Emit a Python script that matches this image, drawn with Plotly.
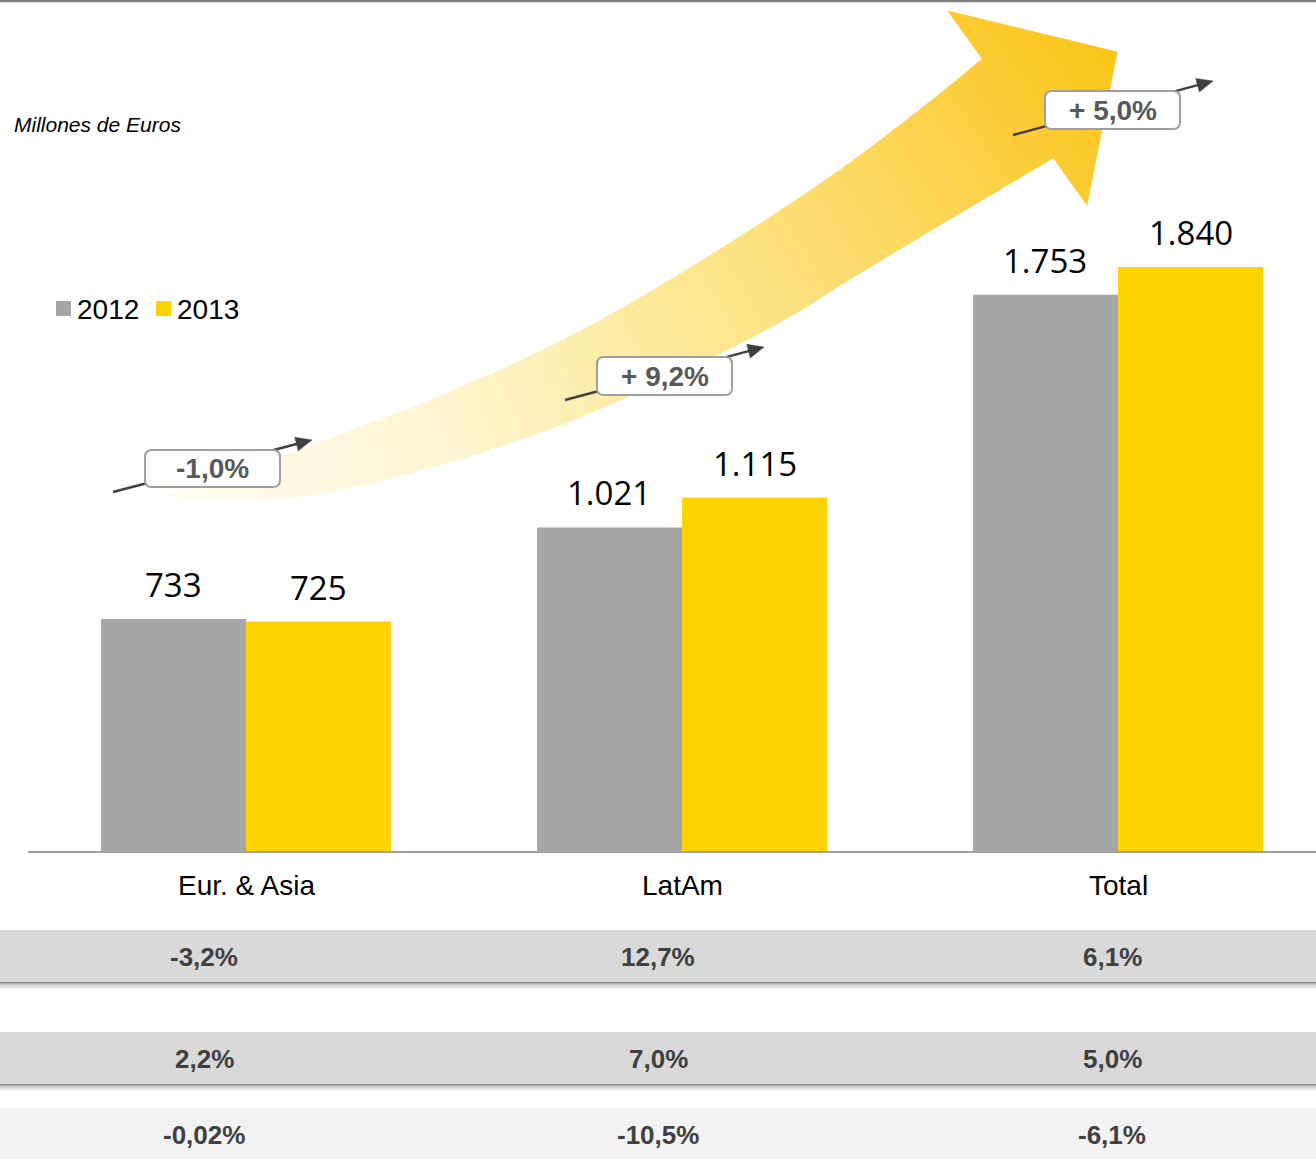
import plotly.graph_objects as go
import math

# ---------------- data ----------------
categories = ["Eur. & Asia", "LatAm", "Total"]
series_names = ["2012", "2013"]
values_2012 = [733, 1021, 1753]
values_2013 = [725, 1115, 1840]
growth_labels = ["-1,0%", "+ 9,2%", "+ 5,0%"]
table_row1 = ["-3,2%", "12,7%", "6,1%"]
table_row2 = ["2,2%", "7,0%", "5,0%"]
table_row3 = ["-0,02%", "-10,5%", "-6,1%"]
unit_label = "Millones de Euros"

# ---------------- styling / layout ----------------
W, H = 1316, 1159
GREY = "#A6A6A6"
YELLOW = "#FFD200"
FONT = "Arial, Liberation Sans, sans-serif"
NUMFONT = "Open Sans, Lato, sans-serif"


def px(x):
    return x / W


def py(y):
    return 1 - y / H


def path(points, close=True):
    s = "M " + " L ".join(f"{px(x):.5f},{py(y):.5f}" for x, y in points)
    return s + (" Z" if close else "")


x_pos = list(range(len(categories)))
fig = go.Figure()
fig.add_trace(go.Bar(x=x_pos, y=values_2012, name=series_names[0],
                     marker=dict(color=GREY, line=dict(width=0)), showlegend=False))
fig.add_trace(go.Bar(x=x_pos, y=values_2013, name=series_names[1],
                     marker=dict(color=YELLOW, line=dict(width=0)), showlegend=False))

shapes = []
annotations = []

# top border line
shapes.append(dict(type="line", xref="paper", yref="paper", x0=0, x1=1,
                   y0=py(1), y1=py(1), line=dict(color="#7F7F7F", width=2.5)))

# ---------------- big gradient arrow (decoration) ----------------
upper_ctrl = [(166, 493), (240, 471), (307, 447), (440, 396), (567, 338), (693, 266),
              (827, 179), (927, 104), (982, 59)]
lower_ctrl = [(166, 497), (230, 500), (323, 493), (463, 458), (597, 410), (760, 333), (860, 273),
              (960, 213), (1053, 158)]
B1, B2, TIP = (948, 11), (1087, 205), (1117, 52)


def catmull(pts, per=8):
    out = []
    P = [pts[0]] + pts + [pts[-1]]
    for i in range(1, len(P) - 2):
        p0, p1, p2, p3 = P[i - 1], P[i], P[i + 1], P[i + 2]
        for s in range(per):
            t = s / per
            t2, t3 = t * t, t * t * t
            out.append(tuple(0.5 * ((2 * p1[j]) + (-p0[j] + p2[j]) * t +
                                    (2 * p0[j] - 5 * p1[j] + 4 * p2[j] - p3[j]) * t2 +
                                    (-p0[j] + 3 * p1[j] - 3 * p2[j] + p3[j]) * t3) for j in range(2)))
    out.append(pts[-1])
    return out


upper = catmull(upper_ctrl)
lower = catmull(lower_ctrl)

stops = [(160, (255, 253, 245)), (450, (255, 245, 208)), (600, (254, 237, 170)),
         (750, (253, 227, 133)), (900, (252, 214, 90)), (1000, (252, 205, 58)),
         (1120, (251, 196, 21))]


def color_at(x):
    if x <= stops[0][0]:
        c = stops[0][1]
    elif x >= stops[-1][0]:
        c = stops[-1][1]
    else:
        for (xa, ca), (xb, cb) in zip(stops[:-1], stops[1:]):
            if xa <= x <= xb:
                f = (x - xa) / (xb - xa)
                c = tuple(ca[i] + f * (cb[i] - ca[i]) for i in range(3))
                break
    return "rgb(%d,%d,%d)" % tuple(round(v) for v in c)


def resample(poly, n):
    d = [0.0]
    for a, b in zip(poly[:-1], poly[1:]):
        d.append(d[-1] + math.hypot(b[0] - a[0], b[1] - a[1]))
    total = d[-1]
    out = []
    for k in range(n + 1):
        t = total * k / n
        for i in range(len(poly) - 1):
            if d[i] <= t <= d[i + 1] + 1e-9:
                f = (t - d[i]) / (d[i + 1] - d[i]) if d[i + 1] > d[i] else 0
                out.append((poly[i][0] + f * (poly[i + 1][0] - poly[i][0]),
                            poly[i][1] + f * (poly[i + 1][1] - poly[i][1])))
                break
    return out


N = 40
SUB = 4
U = resample(upper, N * SUB)
L = resample(lower, N * SUB)
for k in range(N):
    seg_u = U[k * SUB:(k + 1) * SUB + 1]
    seg_l = L[k * SUB:(k + 1) * SUB + 1]
    poly = seg_u + seg_l[::-1]
    cx = (seg_u[0][0] + seg_u[-1][0] + seg_l[0][0] + seg_l[-1][0]) / 4
    col = color_at(cx)
    shapes.append(dict(type="path", xref="paper", yref="paper", path=path(poly),
                       fillcolor=col, line=dict(color=col, width=0.8), layer="below"))
M = 6
for k in range(M):
    s0, s1 = k / M, (k + 1) / M
    p1a = (B1[0] + s0 * (TIP[0] - B1[0]), B1[1] + s0 * (TIP[1] - B1[1]))
    p2a = (B2[0] + s0 * (TIP[0] - B2[0]), B2[1] + s0 * (TIP[1] - B2[1]))
    p1b = (B1[0] + s1 * (TIP[0] - B1[0]), B1[1] + s1 * (TIP[1] - B1[1]))
    p2b = (B2[0] + s1 * (TIP[0] - B2[0]), B2[1] + s1 * (TIP[1] - B2[1]))
    quad = [p1a, p1b, p2b, p2a]
    cx = sum(p[0] for p in quad) / 4
    col = color_at(cx)
    shapes.append(dict(type="path", xref="paper", yref="paper", path=path(quad),
                       fillcolor=col, line=dict(color=col, width=0.8), layer="below"))

# ---------------- growth call-outs ----------------
callouts = [
    dict(tail=(113, 492), tip=(312, 440), box=(145, 450, 280, 487)),
    dict(tail=(565, 400), tip=(764, 347), box=(597, 357, 732, 395)),
    dict(tail=(1013, 135), tip=(1213, 81), box=(1045, 91, 1180, 129)),
]
DARK = "#404040"
for c, label in zip(callouts, growth_labels):
    (tx, ty), (hx, hy) = c["tail"], c["tip"]
    dx, dy = hx - tx, hy - ty
    ln = math.hypot(dx, dy)
    ux, uy = dx / ln, dy / ln
    nx, ny = -uy, ux
    hl, hw = 16, 7
    bx, by = hx - hl * ux, hy - hl * uy
    shapes.append(dict(type="line", xref="paper", yref="paper",
                       x0=px(tx), y0=py(ty), x1=px(bx + 2 * ux), y1=py(by + 2 * uy),
                       line=dict(color=DARK, width=2.5)))
    shapes.append(dict(type="path", xref="paper", yref="paper",
                       path=path([(hx, hy), (bx + hw * nx, by + hw * ny), (bx - hw * nx, by - hw * ny)]),
                       fillcolor=DARK, line=dict(color=DARK, width=0.5)))
    x0, y0, x1, y1 = c["box"]
    r = 7
    rr = ("M {a},{b} L {c},{b} Q {d},{b} {d},{e} L {d},{f} Q {d},{g} {c},{g} "
          "L {a},{g} Q {h},{g} {h},{f} L {h},{e} Q {h},{b} {a},{b} Z").format(
        a=f"{px(x0 + r):.5f}", b=f"{py(y0):.5f}", c=f"{px(x1 - r):.5f}", d=f"{px(x1):.5f}",
        e=f"{py(y0 + r):.5f}", f=f"{py(y1 - r):.5f}", g=f"{py(y1):.5f}", h=f"{px(x0):.5f}")
    shapes.append(dict(type="path", xref="paper", yref="paper", path=rr,
                       fillcolor="white", line=dict(color="#A0A0A0", width=2)))
    annotations.append(dict(xref="paper", yref="paper", x=px((x0 + x1) / 2), y=py((y0 + y1) / 2),
                            text=f"<b>{label}</b>", showarrow=False, xanchor="center", yanchor="middle",
                            font=dict(family=FONT, size=28, color="#595959")))

# ---------------- axis line ----------------
shapes.append(dict(type="line", xref="paper", yref="paper", x0=px(28), x1=1,
                   y0=py(852), y1=py(852), line=dict(color="#A0A0A0", width=2)))

# ---------------- value labels ----------------
half = 0.1665
for vals, off in ((values_2012, -half), (values_2013, half)):
    for i, v in enumerate(vals):
        annotations.append(dict(x=i + off, y=v, xref="x", yref="y",
                                text=f"{v:,}".replace(",", "."), showarrow=False,
                                xanchor="center", yanchor="bottom", yshift=10,
                                font=dict(family=NUMFONT, size=33, color="#000000")))

# ---------------- category labels ----------------
for i, cat in enumerate(categories):
    annotations.append(dict(x=i, y=py(885), xref="x", yref="paper", text=cat, showarrow=False,
                            xanchor="center", yanchor="middle",
                            font=dict(family=FONT, size=28, color="#000000")))

# ---------------- legend (manual) ----------------
legend_items = [(series_names[0], GREY, 56), (series_names[1], YELLOW, 156)]
for name, col, lx in legend_items:
    shapes.append(dict(type="rect", xref="paper", yref="paper", x0=px(lx), x1=px(lx + 15),
                       y0=py(301), y1=py(316), fillcolor=col, line=dict(width=0)))
    annotations.append(dict(xref="paper", yref="paper", x=px(lx + 19), y=py(309), text=name,
                            showarrow=False, xanchor="left", yanchor="middle",
                            font=dict(family=FONT, size=28, color="#000000")))

# ---------------- unit label ----------------
annotations.append(dict(xref="paper", yref="paper", x=px(12), y=py(124), text=f"<i>{unit_label}</i>",
                        showarrow=False, xanchor="left", yanchor="middle",
                        font=dict(family=FONT, size=21, color="#000000")))

# ---------------- table ----------------
col_x = [204, 658, 1112]
rows = [
    dict(vals=table_row1, y0=930, y1=982, fill="#D9D9D9", shadow=True),
    dict(vals=table_row2, y0=1032, y1=1084, fill="#D9D9D9", shadow=True),
    dict(vals=table_row3, y0=1108, y1=1159, fill="#F2F2F2", shadow=False),
]
shadow_cols = ["#8C8C8C", "#A3A3A3", "#BDBDBD", "#D4D4D4", "#E8E8E8", "#F6F6F6"]
for r in rows:
    shapes.append(dict(type="rect", xref="paper", yref="paper", x0=0, x1=1,
                       y0=py(r["y1"]), y1=py(r["y0"]), fillcolor=r["fill"], line=dict(width=0),
                       layer="below"))
    if r["shadow"]:
        for j, sc in enumerate(shadow_cols):
            shapes.append(dict(type="rect", xref="paper", yref="paper", x0=0, x1=1,
                               y0=py(r["y1"] + 1.2 * (j + 1)), y1=py(r["y1"] + 1.2 * j),
                               fillcolor=sc, line=dict(width=0), layer="below"))
    yc = (r["y0"] + r["y1"]) / 2 + 1
    for xc, txt in zip(col_x, r["vals"]):
        annotations.append(dict(xref="paper", yref="paper", x=px(xc), y=py(yc), text=f"<b>{txt}</b>",
                                showarrow=False, xanchor="center", yanchor="middle",
                                font=dict(family=FONT, size=26, color="#404040")))

fig.update_layout(
    width=W, height=H,
    margin=dict(l=0, r=0, t=0, b=0, pad=0),
    paper_bgcolor="white", plot_bgcolor="rgba(0,0,0,0)",
    barmode="group", bargap=0.335, bargroupgap=0,
    xaxis=dict(domain=[28 / W, 1], range=[-0.5, 2.454], showticklabels=False, showgrid=False,
               zeroline=False, showline=False, ticks="", fixedrange=True),
    yaxis=dict(domain=[(H - 852) / H, 1], range=[0, 852 / 0.3179], showticklabels=False,
               showgrid=False, zeroline=False, showline=False, ticks="", fixedrange=True),
    shapes=shapes, annotations=annotations, showlegend=False,
)

fig.write_html("out.html", config={"displayModeBar": False},
               post_script="document.body.style.margin='0';document.body.style.overflow='hidden';")
